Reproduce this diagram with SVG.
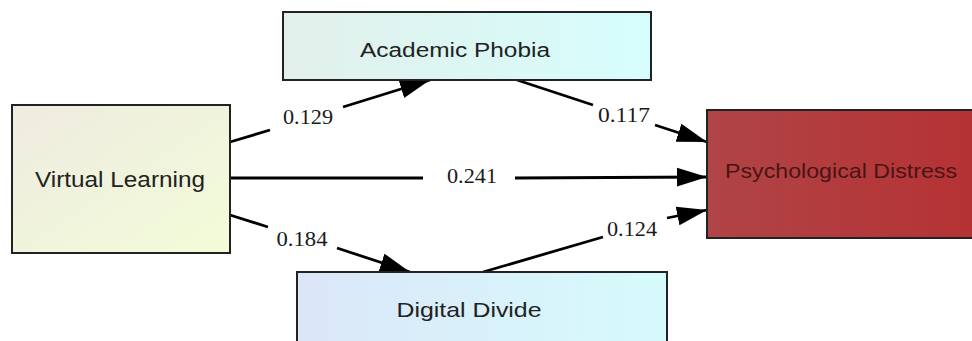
<svg xmlns="http://www.w3.org/2000/svg" width="972" height="341" viewBox="0 0 972 341">
<defs>
<linearGradient id="gVL" x1="0" y1="0" x2="1" y2="1"><stop offset="0" stop-color="#eeebe0"/><stop offset="1" stop-color="#f3fcd8"/></linearGradient>
<linearGradient id="gAP" x1="0" y1="0" x2="1" y2="0"><stop offset="0" stop-color="#e2f0ea"/><stop offset="1" stop-color="#d6fdfd"/></linearGradient>
<linearGradient id="gPD" x1="0" y1="0" x2="1" y2="0"><stop offset="0" stop-color="#b04446"/><stop offset="1" stop-color="#b53234"/></linearGradient>
<linearGradient id="gDD" x1="0" y1="0" x2="1" y2="0"><stop offset="0" stop-color="#dbe6f8"/><stop offset="1" stop-color="#d6fbfc"/></linearGradient>
<marker id="arr" markerUnits="userSpaceOnUse" markerWidth="30" markerHeight="20" viewBox="0 0 27 17" refX="27" refY="8.5" orient="auto">
<path d="M0,0 L27,8.5 L0,17 Z" fill="#000"/>
</marker>
<style>
.box{stroke:#222;stroke-width:2}
.nt{font-family:"Liberation Sans",Arial,sans-serif;fill:#222;text-anchor:middle}
.edge{fill:none;stroke:#000;stroke-width:2.8;marker-end:url(#arr)}
.lbl{font-family:"Liberation Serif","Times New Roman",serif;font-size:21px;fill:#1a1a1a;text-anchor:middle}
</style>
</defs>
<g id="connectors">
<path class="edge" d="M230,142 L270,130 M343,107 L430,80"/>
<path class="edge" d="M517,80 L593,105 M655,125 L707,142"/>
<path class="edge" d="M230,178 L423,178 M515,178 L707,177"/>
<path class="edge" d="M230,215 L268,227 M337,248 L410,272"/>
<path class="edge" d="M483,272 L603,237 M667,218 L707,210"/>
<text class="lbl" x="308" y="124" textLength="50" lengthAdjust="spacingAndGlyphs">0.129</text>
<text class="lbl" x="624" y="122" textLength="52" lengthAdjust="spacingAndGlyphs">0.117</text>
<text class="lbl" x="472" y="183" textLength="50" lengthAdjust="spacingAndGlyphs">0.241</text>
<text class="lbl" x="302" y="246" textLength="51" lengthAdjust="spacingAndGlyphs">0.184</text>
<text class="lbl" x="632" y="236" textLength="50" lengthAdjust="spacingAndGlyphs">0.124</text>
</g>
<g id="virtual-learning">
<rect class="box" x="12" y="105" width="218" height="148" fill="url(#gVL)"/>
<text class="nt" x="120" y="187" font-size="22" textLength="170" lengthAdjust="spacingAndGlyphs">Virtual Learning</text>
</g>
<g id="academic-phobia">
<rect class="box" x="283" y="12" width="368" height="68" fill="url(#gAP)"/>
<text class="nt" x="455" y="57" font-size="20" textLength="190" lengthAdjust="spacingAndGlyphs">Academic Phobia</text>
</g>
<g id="psychological-distress">
<rect class="box" x="707" y="110" width="270" height="128" fill="url(#gPD)"/>
<text class="nt" x="841" y="178" font-size="21" textLength="232" lengthAdjust="spacingAndGlyphs" style="fill:#4a1414">Psychological Distress</text>
</g>
<g id="digital-divide">
<rect class="box" x="297" y="272" width="370" height="80" fill="url(#gDD)"/>
<text class="nt" x="469" y="317" font-size="21" textLength="145" lengthAdjust="spacingAndGlyphs">Digital Divide</text>
</g>
</svg>
